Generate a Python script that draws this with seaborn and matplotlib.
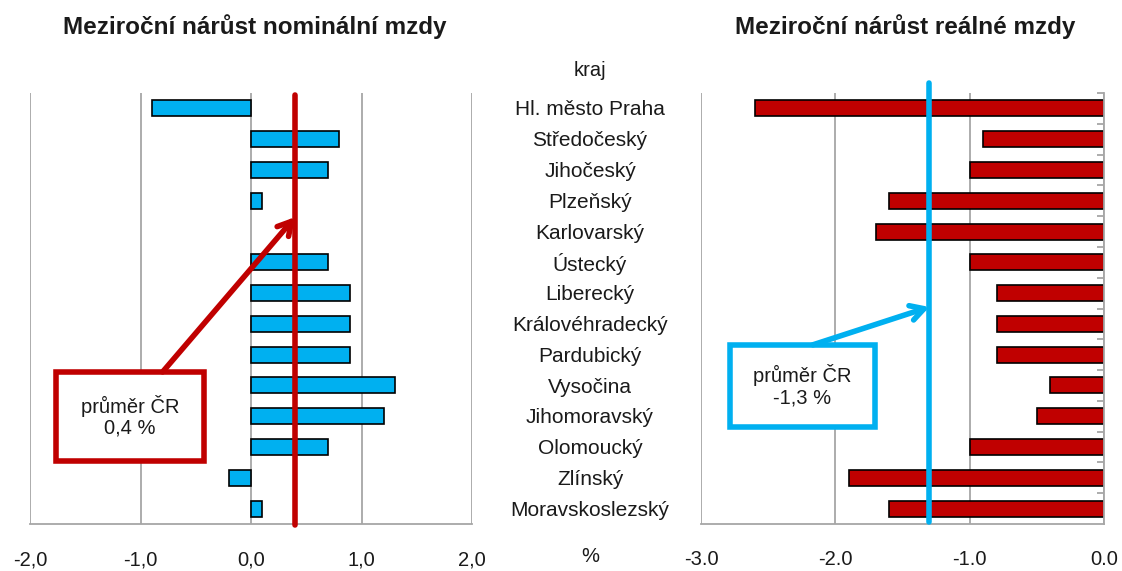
import matplotlib
matplotlib.use("Agg")
import matplotlib.pyplot as plt
import matplotlib.transforms as mtransforms
from matplotlib.patches import Rectangle
import seaborn as sns
import pandas as pd

kraje = ["Hl. město Praha", "Středočeský", "Jihočeský", "Plzeňský", "Karlovarský",
         "Ústecký", "Liberecký", "Královéhradecký", "Pardubický", "Vysočina",
         "Jihomoravský", "Olomoucký", "Zlínský", "Moravskoslezský"]
nominalni = [-0.9, 0.8, 0.7, 0.1, 0.0, 0.7, 0.9, 0.9, 0.9, 1.3, 1.2, 0.7, -0.2, 0.1]
realne = [-2.6, -0.9, -1.0, -1.6, -1.7, -1.0, -0.8, -0.8, -0.8, -0.4, -0.5, -1.0, -1.9, -1.6]
prumer_nom = 0.4
prumer_real = -1.3
nom_ticks = [-2.0, -1.0, 0.0, 1.0, 2.0]
real_ticks = [-3.0, -2.0, -1.0, 0.0]
title_nom = "Meziroční nárůst nominální mzdy"
title_real = "Meziroční nárůst reálné mzdy"

df = pd.DataFrame({"kraj": kraje, "nom": nominalni, "real": realne})

sns.set_theme(style="white")
plt.rcParams["font.family"] = ["Liberation Sans", "DejaVu Sans"]

BLUE = "#00B0F0"
RED = "#C00000"
GRID = "#A6A6A6"
TXT = "#1a1a1a"

fig = plt.figure(figsize=(11.22, 5.71), dpi=100)
ax1 = fig.add_axes([30/1122, 1-524/571, (472-30)/1122, (524-93)/571])
ax2 = fig.add_axes([701/1122, 1-524/571, (1104-701)/1122, (524-93)/571])

sns.barplot(data=df, x="nom", y="kraj", ax=ax1, color=BLUE, edgecolor="black",
            linewidth=1.2, width=0.52, saturation=1, orient="h")
sns.barplot(data=df, x="real", y="kraj", ax=ax2, color=RED, edgecolor="black",
            linewidth=1.2, width=0.52, saturation=1, orient="h")

# zero-valued bars are invisible in the original
for ax in (ax1, ax2):
    for p in ax.patches:
        if abs(p.get_width()) < 1e-9:
            p.set_linewidth(0)

for ax, ticks, fmt in [(ax1, nom_ticks, lambda v: f"{v:.1f}".replace(".", ",")),
                       (ax2, real_ticks, lambda v: f"{v:.1f}")]:
    ax.set_xlim(ticks[0], ticks[-1])
    ax.set_ylim(13.5, -0.5)
    ax.set_xticks(ticks)
    ax.set_xticklabels([fmt(t) for t in ticks], fontsize=14.5, color=TXT)
    ax.set_yticks([])
    ax.set_xlabel("")
    ax.set_ylabel("")
    for t in ticks:
        ax.axvline(t, color=GRID, lw=1.3, zorder=0)
    for s in ["top", "left", "right"]:
        ax.spines[s].set_visible(False)
    ax.spines["bottom"].set_color(GRID)
    ax.spines["bottom"].set_linewidth(1.3)
    ax.tick_params(axis="x", direction="out", length=6, width=1.3, color=GRID, pad=13)
    ax.set_facecolor("none")

# right axis of the real chart at 0 with category-boundary ticks
ax2.spines["right"].set_visible(True)
ax2.spines["right"].set_color(GRID)
ax2.spines["right"].set_linewidth(1.3)
ax2.yaxis.set_ticks_position("right")
ax2.set_yticks([i + 0.5 for i in range(-1, 13)], minor=True)
ax2.tick_params(axis="y", which="minor", direction="in", length=5, width=1.3, color=GRID, right=True)
ax2.tick_params(axis="y", which="major", length=0)

# average lines
ax1.axvline(prumer_nom, ymin=-0.003, ymax=0.995, color=RED, lw=4, zorder=5, clip_on=False)
ax2.axvline(prumer_real, ymin=0.005, ymax=1.023, color=BLUE, lw=4, zorder=5, clip_on=False)

# callout boxes
ax1.add_patch(Rectangle((-1.765, 8.56), 1.34, 2.9, fill=True, facecolor="white",
                        edgecolor=RED, lw=4, zorder=6, clip_on=False))
ax1.text(-1.095, 10.0, f"průměr ČR\n{prumer_nom:.1f} %".replace(".", ","), ha="center", va="center",
         fontsize=14.5, color=TXT, zorder=7, linespacing=1.15)
ax1.annotate("", xy=(prumer_nom, 3.53), xytext=(-0.8, 8.56),
             arrowprops=dict(arrowstyle="->,head_length=0.8,head_width=0.45", color=RED, lw=4,
                             shrinkA=0, shrinkB=0), zorder=6)

ax2.add_patch(Rectangle((-2.785, 7.68), 1.08, 2.66, fill=True, facecolor="white",
                        edgecolor=BLUE, lw=4, zorder=6, clip_on=False))
ax2.text(-2.245, 9.0, f"průměr ČR\n{prumer_real:.1f} %".replace(".", ","), ha="center", va="center",
         fontsize=14.5, color=TXT, zorder=7, linespacing=1.15)
ax2.annotate("", xy=(prumer_real, 6.45), xytext=(-2.167, 7.68),
             arrowprops=dict(arrowstyle="->,head_length=0.8,head_width=0.45", color=BLUE, lw=4,
                             shrinkA=0, shrinkB=0), zorder=6)

# category labels in the middle
trans = mtransforms.blended_transform_factory(fig.transFigure, ax2.transData)
for i, k in enumerate(kraje):
    fig.text(590/1122, i + 0.05, k, transform=trans, ha="center", va="center", fontsize=15, color=TXT)

fig.text(590/1122, 1-70/571, "kraj", ha="center", va="center", fontsize=14.5, color=TXT)
fig.text(590/1122, 1-556/571, "%", ha="center", va="center", fontsize=14.5, color=TXT)
fig.text(255/1122, 1-27/571, title_nom, ha="center", va="center", fontsize=17.5,
         fontweight="bold", color=TXT)
fig.text(905/1122, 1-27/571, title_real, ha="center", va="center", fontsize=17.5,
         fontweight="bold", color=TXT)

fig.savefig("out.png", dpi=100, facecolor="white")
